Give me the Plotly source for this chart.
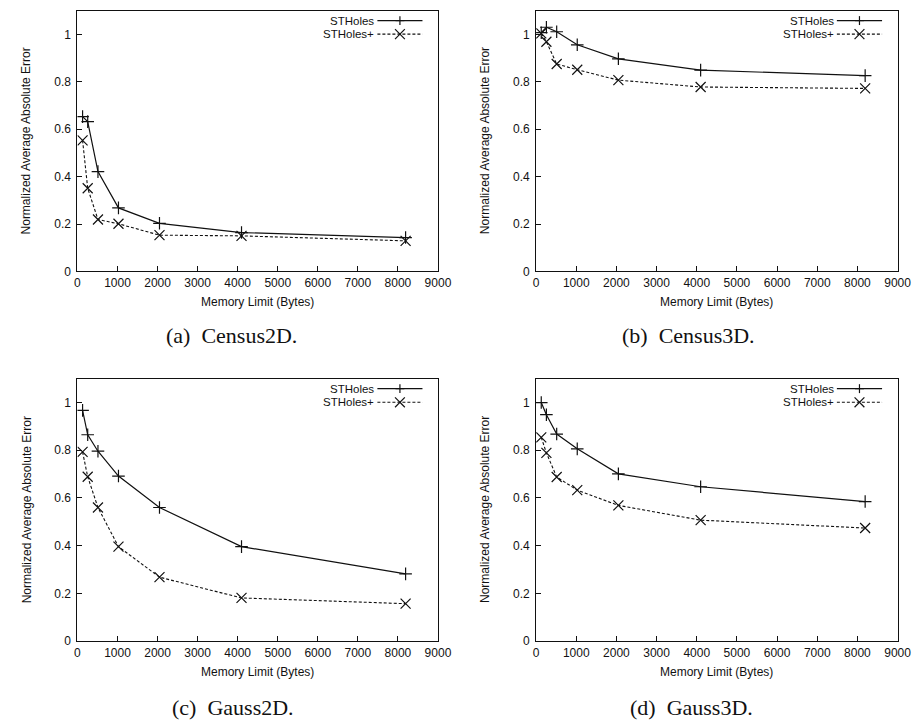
import plotly.graph_objects as go

memory = [128, 256, 512, 1024, 2048, 4096, 8192]

census2d_stholes = [0.653, 0.632, 0.421, 0.268, 0.203, 0.164, 0.143]
census2d_plus = [0.553, 0.351, 0.219, 0.201, 0.153, 0.150, 0.129]

census3d_stholes = [1.007, 1.030, 1.011, 0.956, 0.897, 0.849, 0.826]
census3d_plus = [1.004, 0.969, 0.875, 0.851, 0.807, 0.778, 0.772]

gauss2d_stholes = [0.967, 0.865, 0.796, 0.692, 0.560, 0.396, 0.282]
gauss2d_plus = [0.793, 0.689, 0.560, 0.396, 0.268, 0.181, 0.157]

gauss3d_stholes = [1.000, 0.949, 0.868, 0.806, 0.701, 0.647, 0.585]
gauss3d_plus = [0.854, 0.789, 0.688, 0.633, 0.569, 0.507, 0.474]

series_names = ["STHoles", "STHoles+"]
captions = ["(a)  Census2D.", "(b)  Census3D.", "(c)  Gauss2D.", "(d)  Gauss3D."]
x_ticks = [0, 1000, 2000, 3000, 4000, 5000, 6000, 7000, 8000, 9000]
y_ticks = [0, 0.2, 0.4, 0.6, 0.8, 1]
x_title = "Memory Limit (Bytes)"
y_title = "Normalized Average Absolute Error"

panels = [
    (census2d_stholes, census2d_plus),
    (census3d_stholes, census3d_plus),
    (gauss2d_stholes, gauss2d_plus),
    (gauss3d_stholes, gauss3d_plus),
]

W, H = 920, 725
# panel pixel boxes (left, right, top, bottom)
boxes = [
    (67.7, 435.0, 2.7, 266.0),
    (535.0, 903.3, 2.7, 266.0),
    (67.7, 435.0, 374.3, 639.3),
    (535.0, 903.3, 374.3, 639.3),
]
caption_pos = [(225, 331), (690, 331), (226, 706), (693, 706)]

SANS = "Liberation Sans, Arial, Helvetica, sans-serif"
SERIF = "Liberation Serif, Times New Roman, serif"
INK = "#111111"

fig = go.Figure()
layout = dict(
    width=W, height=H,
    margin=dict(l=0, r=0, t=0, b=0),
    paper_bgcolor="white", plot_bgcolor="white",
    showlegend=False,
    font=dict(family=SANS, size=12, color=INK),
)
annotations = []
shapes = []

for i, (s1, s2) in enumerate(panels):
    k = "" if i == 0 else str(i + 1)
    xa, ya = "x" + k, "y" + k
    l, r, t, b = boxes[i]
    fig.add_trace(go.Scatter(
        x=memory, y=s1, mode="lines+markers", name=series_names[0],
        xaxis=xa, yaxis=ya,
        line=dict(color=INK, width=1.2),
        marker=dict(symbol="cross-thin-open", size=9, color=INK,
                    line=dict(width=1.2, color=INK)),
    ))
    fig.add_trace(go.Scatter(
        x=memory, y=s2, mode="lines+markers", name=series_names[1],
        xaxis=xa, yaxis=ya,
        line=dict(color=INK, width=1.1, dash="3px,2px"),
        marker=dict(symbol="x-thin-open", size=10, color=INK,
                    line=dict(width=1.2, color=INK)),
    ))
    axcommon = dict(showline=True, mirror=True, linecolor=INK, linewidth=1,
                    ticks="inside", ticklen=5, tickwidth=1, tickcolor=INK,
                    showgrid=False, zeroline=False,
                    tickfont=dict(family=SANS, size=12, color=INK))
    layout["xaxis" + k] = dict(
        domain=[l / W, r / W], range=[0, 9000], tickvals=x_ticks,
        anchor=ya, **axcommon)
    layout["yaxis" + k] = dict(
        domain=[1 - b / H, 1 - t / H], range=[0, 1.1], tickvals=y_ticks,
        anchor=xa, ticklabelstandoff=3, **axcommon)

    # axis titles
    annotations.append(dict(text=x_title, xref="paper", yref="paper",
                            x=(l + r) / 2 / W, y=1 - (b + 31) / H,
                            showarrow=False, font=dict(family=SANS, size=12, color=INK),
                            xanchor="center", yanchor="middle"))
    annotations.append(dict(text=y_title, xref="paper", yref="paper",
                            x=(l - 52) / W, y=1 - (t + b) / 2 / H, textangle=-90,
                            showarrow=False, font=dict(family=SANS, size=12, color=INK),
                            xanchor="center", yanchor="middle"))
    cx, cy = caption_pos[i]
    annotations.append(dict(text=captions[i], xref="paper", yref="paper",
                            x=cx / W, y=1 - cy / H, showarrow=False,
                            font=dict(family=SERIF, size=22, color=INK),
                            xanchor="center", yanchor="middle"))

    # legend (gnuplot style: text right-aligned, sample on right)
    dxr, dyr = xa + " domain", ya + " domain"
    pw, ph = r - l, b - t
    rows = [0.962, 0.910]
    tx = 0.826
    sx0, sx1 = 0.832, 0.957
    mx = (sx0 + sx1) / 2
    for j, name in enumerate(series_names):
        annotations.append(dict(text=name, xref=dxr, yref=dyr, x=tx, y=rows[j],
                                showarrow=False, xanchor="right", yanchor="middle",
                                borderpad=0,
                                font=dict(family=SANS, size=11.5, color=INK)))
        shapes.append(dict(type="line", xref=dxr, yref=dyr, x0=sx0, x1=sx1,
                           y0=rows[j], y1=rows[j],
                           line=dict(color=INK, width=1.2 if j == 0 else 1.1,
                                     dash="solid" if j == 0 else "3px,2px")))
        if j == 0:
            hx, hy = 4.5 / pw, 4.5 / ph
            shapes.append(dict(type="line", xref=dxr, yref=dyr, x0=mx - hx, x1=mx + hx,
                               y0=rows[j], y1=rows[j], line=dict(color=INK, width=1.2)))
            shapes.append(dict(type="line", xref=dxr, yref=dyr, x0=mx, x1=mx,
                               y0=rows[j] - hy, y1=rows[j] + hy, line=dict(color=INK, width=1.2)))
        else:
            hx, hy = 5 / pw, 5 / ph
            shapes.append(dict(type="line", xref=dxr, yref=dyr, x0=mx - hx, x1=mx + hx,
                               y0=rows[j] - hy, y1=rows[j] + hy, line=dict(color=INK, width=1.2)))
            shapes.append(dict(type="line", xref=dxr, yref=dyr, x0=mx - hx, x1=mx + hx,
                               y0=rows[j] + hy, y1=rows[j] - hy, line=dict(color=INK, width=1.2)))

layout["annotations"] = annotations
layout["shapes"] = shapes
fig.update_layout(**layout)
fig.write_html("out.html")
